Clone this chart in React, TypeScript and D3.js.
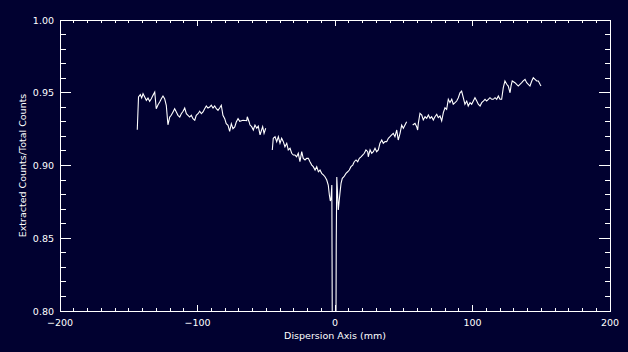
import * as d3 from 'd3';

// Dispersion position (mm) vs. extracted/total counts ratio.
// The curve has three pieces with gaps between them (detector gaps near ±50 mm).
const segmentLeft: [number, number][] = [
  [-143.8, 0.9246], [-142.9, 0.9471], [-141.6, 0.9487], [-140.6, 0.9464], [-139.6, 0.9493],
  [-138.4, 0.9471], [-137.2, 0.9448], [-136.0, 0.9464], [-134.8, 0.9441], [-133.6, 0.9459],
  [-132.4, 0.9482], [-131.1, 0.9505], [-130.0, 0.939], [-128.7, 0.9418], [-127.5, 0.9436],
  [-126.3, 0.9459], [-125.1, 0.9478], [-123.9, 0.9459], [-122.7, 0.9414], [-121.5, 0.928],
  [-120.2, 0.9333], [-119.1, 0.9345], [-117.8, 0.9368], [-116.6, 0.939], [-115.4, 0.9368],
  [-114.2, 0.9345], [-112.9, 0.9333], [-111.8, 0.9356], [-110.5, 0.9373], [-109.3, 0.9395],
  [-108.1, 0.9356], [-106.9, 0.9345], [-105.7, 0.9333], [-104.5, 0.9345], [-103.3, 0.9322],
  [-102.0, 0.9311], [-100.9, 0.9345], [-99.6, 0.9356], [-98.4, 0.9373], [-97.2, 0.9356],
  [-96.0, 0.9368], [-94.8, 0.939], [-93.6, 0.9409], [-92.4, 0.9395], [-91.1, 0.9402],
  [-90.0, 0.9414], [-88.7, 0.9395], [-87.5, 0.9409], [-86.3, 0.939], [-85.1, 0.9379],
  [-83.9, 0.9395], [-82.7, 0.9414], [-81.5, 0.9345], [-80.2, 0.9322], [-79.1, 0.9287],
  [-77.8, 0.9276], [-76.6, 0.9235], [-75.4, 0.9287], [-74.2, 0.9253], [-72.9, 0.9265],
  [-71.8, 0.9299], [-70.5, 0.9322], [-69.3, 0.9304], [-66.9, 0.9311], [-64.2, 0.9308],
  [-63.8, 0.9335], [-62.5, 0.9301], [-61.8, 0.9278], [-60.6, 0.9267], [-59.4, 0.9244],
  [-58.2, 0.9278], [-56.9, 0.9256], [-55.8, 0.9271], [-54.5, 0.921], [-53.8, 0.9232],
  [-52.6, 0.9267], [-51.6, 0.9221], [-50.4, 0.9256],
];

const segmentCentre: [number, number][] = [
  [-45.6, 0.9107], [-44.9, 0.9187], [-43.6, 0.9198], [-42.4, 0.9164], [-41.2, 0.9198],
  [-40.0, 0.9153], [-38.8, 0.9187], [-37.6, 0.9164], [-36.4, 0.9129], [-35.1, 0.9153],
  [-34.0, 0.9107], [-32.7, 0.9118], [-31.5, 0.9084], [-30.3, 0.9072], [-29.1, 0.9072],
  [-27.9, 0.906], [-26.7, 0.9084], [-25.5, 0.9026], [-24.2, 0.9095], [-23.1, 0.9049],
  [-21.8, 0.9038], [-20.6, 0.9049], [-19.4, 0.9049], [-18.2, 0.9026], [-16.9, 0.9003],
  [-15.8, 0.8992], [-14.5, 0.8969], [-13.3, 0.8992], [-12.1, 0.8957], [-10.9, 0.8969],
  [-9.7, 0.8946], [-8.5, 0.8935], [-7.3, 0.8923], [-6.0, 0.89], [-4.9, 0.8866],
  [-4.1, 0.8797], [-3.4, 0.8756], [-2.9, 0.877], [-2.3, 0.8866], [-1.7, 0.7],
  [0.4, 0.7], [0.9, 0.8467], [1.3, 0.8921], [2.4, 0.8694], [3.1, 0.8763],
  [3.6, 0.8809], [4.4, 0.8878], [5.3, 0.8912], [6.5, 0.8923], [8.0, 0.8946],
  [9.2, 0.8957], [10.4, 0.8969], [11.6, 0.8992], [12.9, 0.9003], [14.0, 0.9026],
  [15.3, 0.9038], [16.5, 0.9026], [17.7, 0.9049], [18.9, 0.906], [20.1, 0.9072],
  [21.3, 0.9084], [22.5, 0.9107], [23.8, 0.9095], [24.2, 0.906], [25.5, 0.9107],
  [26.7, 0.9084], [27.9, 0.9095], [29.1, 0.9118], [30.3, 0.9095], [31.5, 0.9107],
  [32.7, 0.9153], [34.0, 0.9175], [35.1, 0.9153], [36.4, 0.9164], [37.6, 0.9164],
  [38.8, 0.9187], [40.0, 0.9198], [41.2, 0.921], [42.4, 0.9221], [43.6, 0.9198],
  [44.9, 0.9244], [46.0, 0.9175], [47.3, 0.9221], [48.5, 0.9278], [49.7, 0.9256],
  [50.9, 0.9278], [52.1, 0.9301],
];

const segmentRight: [number, number][] = [
  [56.5, 0.9278], [58.2, 0.929], [59.4, 0.9267], [60.1, 0.9244], [60.6, 0.929],
  [61.8, 0.9359], [63.1, 0.9347], [64.2, 0.9313], [65.5, 0.9335], [66.7, 0.9324],
  [67.9, 0.9347], [69.1, 0.9324], [70.3, 0.9335], [71.5, 0.9313], [72.7, 0.9335],
  [74.0, 0.9352], [75.1, 0.9329], [76.4, 0.934], [77.6, 0.9306], [78.8, 0.9363],
  [80.0, 0.9397], [81.2, 0.9386], [82.4, 0.9455], [83.6, 0.9432], [84.9, 0.9455],
  [86.0, 0.9421], [87.3, 0.9432], [88.5, 0.9443], [89.7, 0.9466], [90.9, 0.95],
  [92.1, 0.9512], [93.3, 0.9466], [94.5, 0.9421], [95.8, 0.9443], [96.9, 0.9409],
  [98.2, 0.9432], [99.4, 0.9421], [100.6, 0.9443], [101.8, 0.9466], [103.1, 0.9443],
  [104.2, 0.9421], [105.5, 0.9409], [106.7, 0.9432], [107.9, 0.9443], [109.1, 0.9455],
  [110.3, 0.9443], [111.5, 0.9455], [112.7, 0.9466], [114.0, 0.9455], [115.1, 0.9455],
  [116.4, 0.9466], [117.6, 0.9455], [118.8, 0.9478], [120.0, 0.9455], [121.2, 0.9455],
  [122.4, 0.9535], [123.6, 0.9581], [124.9, 0.9558], [126.0, 0.9546], [127.3, 0.95],
  [128.0, 0.9546], [128.9, 0.9581], [130.9, 0.9569], [132.1, 0.9558], [133.3, 0.9546],
  [134.5, 0.9558], [135.8, 0.9569], [136.9, 0.9581], [138.2, 0.9592], [139.4, 0.9569],
  [140.6, 0.9558], [141.8, 0.9546], [143.1, 0.9581], [144.2, 0.9603], [145.5, 0.9592],
  [146.7, 0.9581], [147.9, 0.9581], [149.1, 0.9558], [149.8, 0.9546],
];

const segments = [segmentLeft, segmentCentre, segmentRight];

const xTicks = [-200, -100, 0, 100, 200];
const yTicks = [0.8, 0.85, 0.9, 0.95, 1.0];
const xTitle = 'Dispersion Axis (mm)';
const yTitle = 'Extracted Counts/Total Counts';

const WIDTH = 628;
const HEIGHT = 352;
const BG = '#010130';
const FG = '#ffffff';
const FONT = '"DejaVu Sans", sans-serif';

export default function App() {
  const margin = { top: 20, right: 18, bottom: 41, left: 60 };
  const x = d3.scaleLinear().domain([-200, 200]).range([margin.left, WIDTH - margin.right]);
  const y = d3.scaleLinear().domain([0.8, 1.0]).range([HEIGHT - margin.bottom, margin.top]);
  const [x0, x1] = x.range();
  const [y0, y1] = y.range(); // y0 bottom, y1 top
  const plotW = x1 - x0;
  const plotH = y0 - y1;

  // IDL style tick lengths: 2% of the plot size, minor ticks half that.
  const xMajor = 0.02 * plotH;
  const yMajor = 0.02 * plotW;
  const xMinorTicks = d3.range(-200, 201, 10).filter((t) => !xTicks.includes(t));
  const yMinorTicks = d3.range(80, 101, 1).map((v) => v / 100).filter((t) => !yTicks.some((m) => Math.abs(m - t) < 1e-9));

  const line = d3.line<[number, number]>()
    .x((d) => x(d[0]))
    .y((d) => y(d[1]));

  const fmtX = d3.format('d');
  const fmtY = d3.format('.2f');

  return (
    <svg
      width={WIDTH}
      height={HEIGHT}
      style={{ position: 'fixed', left: 0, top: 0, display: 'block', background: BG }}
      fontFamily={FONT}
    >
      <defs>
        <clipPath id="plot-clip">
          <rect x={x0} y={y1} width={plotW} height={plotH} />
        </clipPath>
      </defs>
      <rect width={WIDTH} height={HEIGHT} fill={BG} />

      <g clipPath="url(#plot-clip)">
        {segments.map((seg, i) => (
          <path key={i} d={line(seg) ?? undefined} fill="none" stroke={FG} strokeWidth={1.1} strokeLinejoin="miter" />
        ))}
      </g>

      <g shapeRendering="crispEdges" stroke={FG} strokeWidth={1}>
        <rect x={x0 + 0.5} y={y1 + 0.5} width={plotW} height={plotH} fill="none" />
        {xTicks.map((t) => (
          <g key={`xt-${t}`}>
            <line x1={x(t)} x2={x(t)} y1={y0} y2={y0 - xMajor} />
            <line x1={x(t)} x2={x(t)} y1={y1} y2={y1 + xMajor} />
          </g>
        ))}
        {xMinorTicks.map((t) => (
          <g key={`xm-${t}`}>
            <line x1={x(t)} x2={x(t)} y1={y0} y2={y0 - xMajor / 2} />
            <line x1={x(t)} x2={x(t)} y1={y1} y2={y1 + xMajor / 2} />
          </g>
        ))}
        {yTicks.map((t) => (
          <g key={`yt-${t}`}>
            <line x1={x0} x2={x0 + yMajor} y1={y(t)} y2={y(t)} />
            <line x1={x1} x2={x1 - yMajor} y1={y(t)} y2={y(t)} />
          </g>
        ))}
        {yMinorTicks.map((t) => (
          <g key={`ym-${t}`}>
            <line x1={x0} x2={x0 + yMajor / 2} y1={y(t)} y2={y(t)} />
            <line x1={x1} x2={x1 - yMajor / 2} y1={y(t)} y2={y(t)} />
          </g>
        ))}
      </g>

      <g fill={FG} fontSize={9.5}>
        {xTicks.map((t) => (
          <text key={`xl-${t}`} x={x(t)} y={y0 + 15} textAnchor="middle">{fmtX(t)}</text>
        ))}
        {yTicks.map((t) => (
          <text key={`yl-${t}`} x={x0 - 6} y={y(t) + 3.5} textAnchor="end">{fmtY(t)}</text>
        ))}
        <text x={(x0 + x1) / 2} y={y0 + 28} textAnchor="middle">{xTitle}</text>
        <text
          transform={`translate(${26},${(y0 + y1) / 2}) rotate(-90)`}
          textAnchor="middle"
        >
          {yTitle}
        </text>
      </g>
    </svg>
  );
}
